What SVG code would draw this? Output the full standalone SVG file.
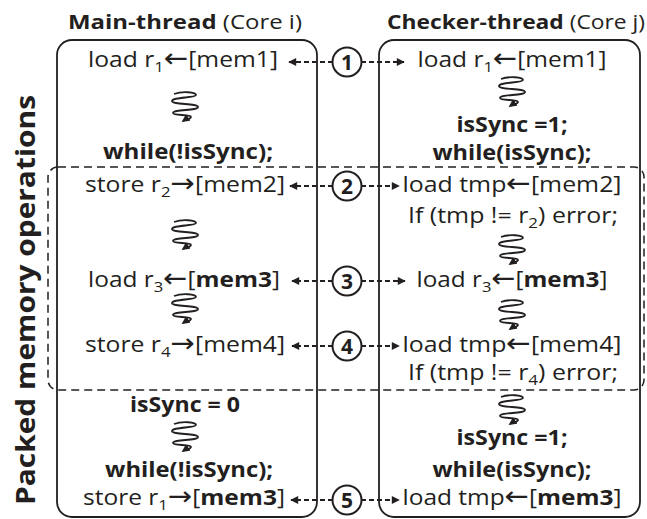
<svg xmlns="http://www.w3.org/2000/svg" width="647" height="519" viewBox="0 0 647 519">
<style>
.t{font-family:"Open Sans","Liberation Sans",sans-serif;font-size:22px;fill:#231f20;text-anchor:middle}
.b{font-weight:bold}
.s{font-size:15px}
.a{font-family:"DejaVu Sans","Liberation Sans",sans-serif;font-size:26px}
.box{fill:none;stroke:#231f20;stroke-width:1.8}
.pk{fill:none;stroke:#231f20;stroke-width:1.5;stroke-dasharray:8 5}
.cn{fill:none;stroke:#231f20;stroke-width:2;stroke-dasharray:5 3}
.cir{fill:#fff;stroke:#231f20;stroke-width:2}
.num{font-family:"Open Sans","Liberation Sans",sans-serif;font-size:21px;font-weight:bold;fill:#231f20;text-anchor:middle}
.sq{fill:none;stroke:#231f20;stroke-width:1.8}
</style>
<defs>
<marker id="ah" viewBox="0 0 10 10" refX="9" refY="5" markerWidth="4.5" markerHeight="4" orient="auto" markerUnits="strokeWidth">
<path d="M0,0 L10,5 L0,10 z" fill="#231f20"/>
</marker>
<marker id="sh" viewBox="0 0 10 10" refX="8" refY="5" markerWidth="4.5" markerHeight="4.5" orient="auto" markerUnits="strokeWidth">
<path d="M0,0 L10,5 L0,10 z" fill="#231f20"/>
</marker>
<g id="sq">
<path class="sq" marker-end="url(#sh)" d="M-10,2 C-2,-1 12,0 12,3 C12,6 -12,5 -12,9 C-12,13 14,11 14,15 C14,19 -11,17 -11,21 C-11,24 7,22 7,25 C7,27 2,27 -1,29"/>
</g>
</defs>

<text class="t" transform="translate(35,300) rotate(-90)" style="font-size:27px;font-weight:bold" textLength="410" lengthAdjust="spacingAndGlyphs">Packed memory operations</text>

<g id="main-thread">
<text class="t" x="185" y="29" style="font-size:20px" textLength="234" lengthAdjust="spacingAndGlyphs"><tspan class="b">Main-thread</tspan> (Core i)</text>
<rect class="box" x="57" y="40" width="260" height="477" rx="15"/>
<text class="t" x="183" y="67" textLength="190" lengthAdjust="spacingAndGlyphs">load r<tspan class="s" dy="5">1</tspan><tspan class="a" dy="-5">←</tspan>[mem1]</text>
<use href="#sq" x="184" y="92"/>
<text class="t b" x="188" y="159" textLength="170" lengthAdjust="spacingAndGlyphs">while(!isSync);</text>
<text class="t" x="185" y="192" textLength="200" lengthAdjust="spacingAndGlyphs">store r<tspan class="s" dy="5">2</tspan><tspan class="a" dy="-5">→</tspan>[mem2]</text>
<use href="#sq" x="184" y="220"/>
<text class="t" x="184" y="287" textLength="192" lengthAdjust="spacingAndGlyphs">load r<tspan class="s" dy="5">3</tspan><tspan class="a" dy="-5">←</tspan>[<tspan class="b">mem3</tspan>]</text>
<use href="#sq" x="184" y="294"/>
<text class="t" x="185" y="352" textLength="200" lengthAdjust="spacingAndGlyphs">store r<tspan class="s" dy="5">4</tspan><tspan class="a" dy="-5">→</tspan>[mem4]</text>
<text class="t b" x="185" y="412" textLength="110" lengthAdjust="spacingAndGlyphs">isSync = 0</text>
<use href="#sq" x="184" y="422"/>
<text class="t b" x="189" y="477" textLength="168" lengthAdjust="spacingAndGlyphs">while(!isSync);</text>
<text class="t" x="184" y="505" textLength="202" lengthAdjust="spacingAndGlyphs">store r<tspan class="s" dy="5">1</tspan><tspan class="a" dy="-5">→</tspan>[<tspan class="b">mem3</tspan>]</text>
</g>

<g id="checker-thread">
<text class="t" x="516" y="29" style="font-size:20px" textLength="258" lengthAdjust="spacingAndGlyphs"><tspan class="b">Checker-thread</tspan> (Core j)</text>
<rect class="box" x="379" y="40" width="261" height="477" rx="15"/>
<text class="t" x="512" y="67" textLength="189" lengthAdjust="spacingAndGlyphs">load r<tspan class="s" dy="5">1</tspan><tspan class="a" dy="-5">←</tspan>[mem1]</text>
<use href="#sq" x="511" y="77"/>
<text class="t b" x="512" y="132" textLength="111" lengthAdjust="spacingAndGlyphs">isSync =1;</text>
<text class="t b" x="512" y="160" textLength="159" lengthAdjust="spacingAndGlyphs">while(isSync);</text>
<text class="t" x="512" y="192" textLength="219" lengthAdjust="spacingAndGlyphs">load tmp<tspan class="a">←</tspan>[mem2]</text>
<text class="t" x="513" y="223" textLength="210" lengthAdjust="spacingAndGlyphs">If (tmp != r<tspan class="s" dy="5">2</tspan><tspan dy="-5">) error;</tspan></text>
<use href="#sq" x="511" y="235"/>
<text class="t" x="512" y="287" textLength="191" lengthAdjust="spacingAndGlyphs">load r<tspan class="s" dy="5">3</tspan><tspan class="a" dy="-5">←</tspan>[<tspan class="b">mem3</tspan>]</text>
<use href="#sq" x="511" y="300"/>
<text class="t" x="512" y="352" textLength="219" lengthAdjust="spacingAndGlyphs">load tmp<tspan class="a">←</tspan>[mem4]</text>
<text class="t" x="513" y="380" textLength="210" lengthAdjust="spacingAndGlyphs">If (tmp != r<tspan class="s" dy="5">4</tspan><tspan dy="-5">) error;</tspan></text>
<use href="#sq" x="511" y="395"/>
<text class="t b" x="512" y="445" textLength="111" lengthAdjust="spacingAndGlyphs">isSync =1;</text>
<text class="t b" x="512" y="477" textLength="159" lengthAdjust="spacingAndGlyphs">while(isSync);</text>
<text class="t" x="512" y="505" textLength="219" lengthAdjust="spacingAndGlyphs">load tmp<tspan class="a">←</tspan>[<tspan class="b">mem3</tspan>]</text>
</g>

<g id="packed-region">
<rect class="pk" x="48" y="167" width="596" height="223" rx="10"/>
</g>

<g id="connectors">
<line class="cn" x1="333" y1="62" x2="289" y2="62" marker-end="url(#ah)"/>
<line class="cn" x1="361" y1="62" x2="404" y2="62" marker-end="url(#ah)"/>
<line class="cn" x1="333" y1="186" x2="290" y2="186" marker-end="url(#ah)"/>
<line class="cn" x1="361" y1="186" x2="399" y2="186" marker-end="url(#ah)"/>
<line class="cn" x1="333" y1="281" x2="292" y2="281" marker-end="url(#ah)"/>
<line class="cn" x1="361" y1="281" x2="405" y2="281" marker-end="url(#ah)"/>
<line class="cn" x1="333" y1="346" x2="292" y2="346" marker-end="url(#ah)"/>
<line class="cn" x1="361" y1="346" x2="399" y2="346" marker-end="url(#ah)"/>
<line class="cn" x1="333" y1="500" x2="291" y2="500" marker-end="url(#ah)"/>
<line class="cn" x1="361" y1="500" x2="399" y2="500" marker-end="url(#ah)"/>
</g>

<g id="step-1"><circle class="cir" cx="347" cy="62" r="14.5"/><text class="num" x="347" y="69.5">1</text></g>
<g id="step-2"><circle class="cir" cx="347" cy="186" r="14.5"/><text class="num" x="347" y="193.5">2</text></g>
<g id="step-3"><circle class="cir" cx="347" cy="281" r="14.5"/><text class="num" x="347" y="288.5">3</text></g>
<g id="step-4"><circle class="cir" cx="347" cy="346" r="14.5"/><text class="num" x="347" y="353.5">4</text></g>
<g id="step-5"><circle class="cir" cx="347" cy="500" r="14.5"/><text class="num" x="347" y="507.5">5</text></g>
</svg>
